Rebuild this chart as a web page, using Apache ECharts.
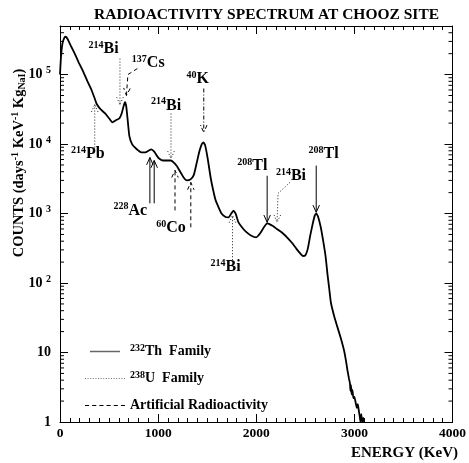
<!DOCTYPE html>
<html>
<head>
<meta charset="utf-8">
<script src="https://cdn.jsdelivr.net/npm/echarts@6/dist/echarts.min.js"></script>
<style>
html, body { margin: 0; padding: 0; background: #fff; }
#chart { width: 469px; height: 463px; }
</style>
</head>
<body>
<div id="chart"></div>
<script>
// spectrum: energy (keV) and counts (days-1 keV-1 kg-1)
const energy = [0, 10, 25, 45, 60, 80, 110, 150, 190, 232, 280, 323, 352, 373, 410, 455, 500, 535, 570, 606, 630, 650, 662, 675, 690, 707, 737, 780, 828, 870, 900, 930, 960, 990, 1010, 1050, 1090, 1130, 1160, 1192, 1230, 1260, 1293, 1330, 1364, 1395, 1420, 1445, 1462, 1480, 1505, 1535, 1560, 1586, 1616, 1646, 1687, 1720, 1745, 1768, 1790, 1818, 1860, 1900, 1950, 2000, 2040, 2080, 2111, 2130, 2170, 2210, 2270, 2323, 2370, 2410, 2450, 2475, 2500, 2525, 2550, 2576, 2598, 2611, 2630, 2657, 2680, 2707, 2727, 2745, 2761, 2795, 2828, 2862, 2896, 2915, 2929, 2945, 2955, 2960, 2965, 2972, 2980, 2990, 3000, 3013, 3025, 3035, 3047, 3055, 3062, 3070, 3080, 3090, 3100];
const counts = [1.0e5, 1.8e5, 2.8e5, 3.4e5, 3.5e5, 3.2e5, 2.6e5, 2.0e5, 1.5e5, 1.14e5, 8.0e4, 5.9e4, 4.6e4, 3.8e4, 3.2e4, 2.8e4, 2.35e4, 2.05e4, 2.2e4, 2.35e4, 2.8e4, 3.6e4, 4.0e4, 3.5e4, 2.2e4, 1.3e4, 9.8e3, 8.5e3, 7.6e3, 7.6e3, 8.0e3, 8.4e3, 7.8e3, 6.7e3, 6.2e3, 5.8e3, 5.8e3, 5.8e3, 5.4e3, 4.8e3, 3.9e3, 3.3e3, 3.0e3, 3.1e3, 3.6e3, 5.5e3, 7.8e3, 1.0e4, 1.06e4, 9.5e3, 6.2e3, 3.3e3, 2.2e3, 1.55e3, 1.23e3, 1.0e3, 890, 880, 1.0e3, 1.1e3, 1.0e3, 750, 620, 540, 480, 455, 520, 640, 720, 710, 660, 600, 520, 440, 370, 310, 265, 245, 250, 310, 480, 720, 950, 1000, 900, 640, 420, 240, 130, 80, 52, 33, 23, 16, 10.5, 7.5, 5.6, 4.2, 3.6, 2.8, 3.4, 2.5, 2.9, 2.2, 2.3, 1.9, 1.6, 1.8, 1.4, 1.2, 1.0, 1.3, 1.0, 1.15, 1.0];

// peak annotations: isotope mass number, element, label position [keV, counts], family
const annMass = ['214', '137', '214', '214', '40', '228', '60', '214', '208', '214', '208'];
const annElem = ['Bi', 'Cs', 'Pb', 'Bi', 'K', 'Ac', 'Co', 'Bi', 'Tl', 'Bi', 'Tl'];
const annLabelAt = [[444, 2.36e5], [899, 1.49e5], [283, 7.3e3], [1081, 3.6e4], [1404, 8.8e4], [717, 1.11e3], [1131, 613], [1687, 169], [1960, 4.9e3], [2354, 3.5e3], [2687, 7.3e3]];
const annFamily = ['U', 'Art', 'U', 'U', 'K', 'Th', 'Art', 'U', 'Th', 'U', 'Th'];
// arrows for each annotation, each one a polyline that ends at its head
const annArrows = [
  [[[611, 1.7e5], [611, 3.7e4]]],
  [[[788, 1.22e5], [692, 1.0e5], [677, 5.0e4]]],
  [[[354, 8.9e3], [354, 3.7e4]]],
  [[[1131, 2.75e4], [1131, 6.2e3]]],
  [[[1465, 6.3e4], [1465, 1.47e4]]],
  [[[916, 1.4e3], [916, 6.4e3]], [[960, 1.4e3], [960, 5.8e3]]],
  [[[1172, 1.11e3], [1172, 4.2e3]], [[1333, 634], [1333, 2.8e3]]],
  [[[1758, 213], [1758, 942]]],
  [[[2111, 3.5e3], [2111, 748]]],
  [[[2343, 2.8e3], [2222, 1.95e3], [2212, 748]]],
  [[[2611, 4.9e3], [2611, 1.04e3]]]
];
const yMinorTicks = [2, 3, 4, 5, 6, 7, 8, 9, 20, 30, 40, 50, 60, 70, 80, 90, 200, 300, 400, 500, 600, 700, 800, 900, 2000, 3000, 4000, 5000, 6000, 7000, 8000, 9000, 20000, 30000, 40000, 50000, 60000, 70000, 80000, 90000, 200000, 300000, 400000];

const FONT = 'Liberation Serif';
const familyNames = { Th: '{m|232}{t|Th  Family}', U: '{m|238}{t|U  Family}', Art: '{t|Artificial Radioactivity}' };
const dash = { Th: null, U: [1, 2], Art: [4, 3], K: [4, 2, 1, 2] };
const stroke = { Th: '#000', U: '#222', Art: '#000', K: '#000' };
const labelRich = {
  m: { fontFamily: FONT, fontWeight: 'bold', fontSize: 10, fill: '#000', padding: [0, 0, 7, 0] },
  e: { fontFamily: FONT, fontWeight: 'bold', fontSize: 16, fill: '#000' }
};

function renderAnnotation(params, api) {
  const i = api.value(2);
  const fam = annFamily[i];
  const lineStyle = { stroke: stroke[fam], lineWidth: 1, lineDash: dash[fam], fill: null };
  const children = [];
  annArrows[i].forEach(function (path) {
    const pts = path.map(p => api.coord(p));
    children.push({ type: 'polyline', shape: { points: pts }, style: lineStyle });
    const a = pts[pts.length - 1], b = pts[pts.length - 2];
    let dx = a[0] - b[0], dy = a[1] - b[1];
    const len = Math.hypot(dx, dy);
    dx /= len; dy /= len;
    const L = 8, c = Math.cos(0.42), s = Math.sin(0.42);
    const arm = k => [a[0] - L * (dx * c - k * dy * s), a[1] - L * (k * dx * s + dy * c)];
    children.push({ type: 'polyline', shape: { points: [arm(1), a, arm(-1)] }, style: lineStyle });
  });
  const p = api.coord(annLabelAt[i]);
  children.push({
    type: 'text', x: p[0], y: p[1],
    style: { text: '{m|' + annMass[i] + '}{e|' + annElem[i] + '}', rich: labelRich, align: 'center', verticalAlign: 'middle' }
  });
  return { type: 'group', children: children };
}

function annotationSeries(fam) {
  const data = [];
  annFamily.forEach(function (f, i) {
    if (f === fam) data.push([annLabelAt[i][0], annLabelAt[i][1], i]);
  });
  return {
    name: fam, type: 'custom', renderItem: renderAnnotation,
    dimensions: ['e', 'c', 'i'], encode: { x: 0, y: 1 },
    data: data, clip: false, silent: true, z: 3
  };
}

function iconPath(dashLen, gap) {
  let d = '';
  for (let x = 0; x < 40; x += dashLen + gap) d += 'M' + x + ',0h' + dashLen + 'v1h-' + dashLen + 'z';
  return 'path://' + d;
}

const chart = echarts.init(document.getElementById('chart'), null, { renderer: 'canvas' });

const xTickCommon = {
  type: 'value', min: 0, max: 4000, interval: 1000,
  axisLine: { show: true, onZero: false, lineStyle: { color: '#000', width: 1 } },
  axisTick: { inside: true, length: 8, lineStyle: { color: '#000' } },
  minorTick: { show: true, splitNumber: 10, length: 4, lineStyle: { color: '#000' } },
  splitLine: { show: false }
};
const yCommon = {
  type: 'log', logBase: 10, min: 1, max: 5e5,
  axisLine: { show: true, onZero: false, lineStyle: { color: '#000', width: 1 } },
  axisTick: { inside: true, length: 8, lineStyle: { color: '#000' } },
  splitLine: { show: false }
};

chart.setOption({
  animation: false,
  backgroundColor: '#fff',
  textStyle: { fontFamily: FONT },
  grid: { left: 60, right: 13, top: 26, bottom: 41 },
  xAxis: [
    Object.assign({}, xTickCommon, {
      position: 'bottom',
      axisLabel: { margin: 5, color: '#000', fontFamily: FONT, fontWeight: 'bold', fontSize: 13.5, formatter: v => String(v) }
    }),
    Object.assign({}, xTickCommon, { position: 'top', axisLabel: { show: false } })
  ],
  yAxis: [
    Object.assign({}, yCommon, {
      position: 'left',
      axisLabel: {
        margin: 9, color: '#000', fontFamily: FONT, fontWeight: 'bold', fontSize: 14, showMaxLabel: false,
        formatter: function (v) {
          if (v < 5) return '1';
          if (v < 50) return '10';
          return '10 {s|' + Math.round(Math.log10(v)) + '}';
        },
        rich: { s: { fontFamily: FONT, fontWeight: 'bold', fontSize: 10, color: '#000', padding: [0, 0, 8, 0] } }
      }
    }),
    Object.assign({}, yCommon, { position: 'right', axisLabel: { show: false } })
  ],
  title: {
    text: 'RADIOACTIVITY SPECTRUM AT CHOOZ SITE',
    left: 89, top: 2,
    textStyle: { fontFamily: FONT, fontWeight: 'bold', fontSize: 15.5, color: '#000' }
  },
  legend: {
    orient: 'vertical', left: 80, top: 338, itemGap: 10,
    itemWidth: 40, itemHeight: 1.5,
    data: [
      { name: 'Th', icon: 'path://M0,0h40v2h-40z', itemStyle: { color: '#666' } },
      { name: 'U', icon: iconPath(1, 1.5), itemStyle: { color: '#777' } },
      { name: 'Art', icon: iconPath(4, 3), itemStyle: { color: '#000' } }
    ],
    formatter: name => familyNames[name],
    textStyle: {
      padding: [0, 0, 0, 0], lineHeight: 17,
      rich: {
        m: { fontFamily: FONT, fontWeight: 'bold', fontSize: 10, color: '#000', padding: [0, 0, 7, 0] },
        t: { fontFamily: FONT, fontWeight: 'bold', fontSize: 14, color: '#000' }
      }
    },
    selectedMode: false
  },
  graphic: [
    {
      type: 'text', x: 19, y: 163, rotation: Math.PI / 2,
      style: {
        text: 'COUNTS (days{p|-1} KeV{p|-1} Kg{b|NaI})',
        fontFamily: FONT, fontWeight: 'bold', fontSize: 14.5, fill: '#000',
        align: 'center', verticalAlign: 'middle',
        rich: {
          p: { fontFamily: FONT, fontWeight: 'bold', fontSize: 10, fill: '#000', padding: [0, 0, 7, 0] },
          b: { fontFamily: FONT, fontWeight: 'bold', fontSize: 10, fill: '#000', padding: [7, 0, 0, 0] }
        }
      }
    },
    {
      type: 'text', x: 458, y: 453,
      style: { text: 'ENERGY (KeV)', fontFamily: FONT, fontWeight: 'bold', fontSize: 15, fill: '#000', align: 'right', verticalAlign: 'middle' }
    }
  ],
  series: [
    {
      name: 'spectrum', type: 'line', showSymbol: false, smooth: 0.15,
      data: energy.map((e, i) => [e, counts[i]]),
      lineStyle: { color: '#000', width: 1.8 }, z: 4, silent: true
    },
    {
      name: 'minorTicks', type: 'custom', silent: true, clip: false,
      dimensions: ['v'], encode: { y: 0 },
      data: yMinorTicks.map(v => [v]),
      renderItem: function (params, api) {
        const l = api.coord([0, api.value(0)]);
        const r = api.coord([4000, api.value(0)]);
        const st = { stroke: '#000', lineWidth: 1 };
        return {
          type: 'group', children: [
            { type: 'line', shape: { x1: l[0], y1: l[1], x2: l[0] + 4, y2: l[1] }, style: st },
            { type: 'line', shape: { x1: r[0], y1: r[1], x2: r[0] - 4, y2: r[1] }, style: st }
          ]
        };
      }
    },
    annotationSeries('Th'),
    annotationSeries('U'),
    annotationSeries('Art'),
    annotationSeries('K')
  ]
});
</script>
</body>
</html>
